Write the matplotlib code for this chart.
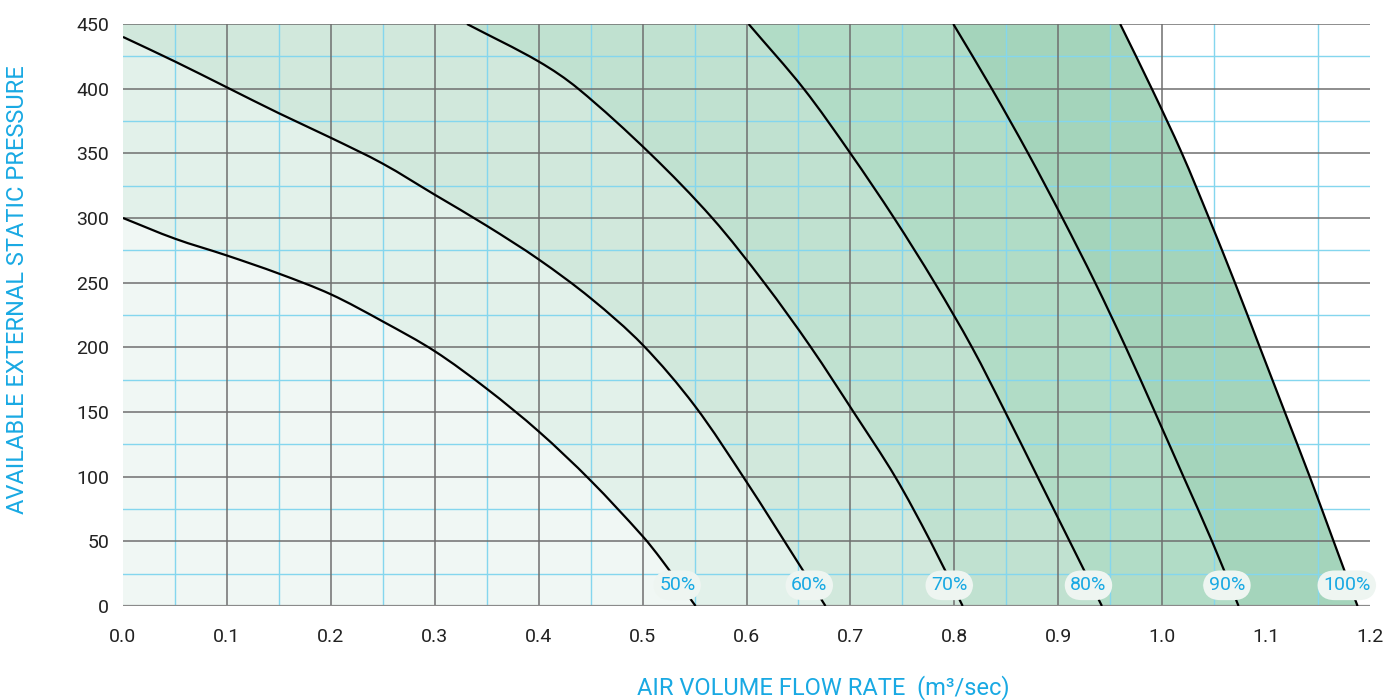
import numpy as np
import matplotlib
matplotlib.use("Agg")
import matplotlib.pyplot as plt
from matplotlib.path import Path
from matplotlib.patches import PathPatch

plt.rcParams['font.family'] = ['Roboto', 'DejaVu Sans']

# fan curves: flow (m3/s) vs available static pressure (Pa)
curve_labels = ['50%', '60%', '70%', '80%', '90%', '100%']

x50 = [0, 0.05, 0.1, 0.15, 0.2, 0.25, 0.3, 0.35, 0.4, 0.45, 0.5, 0.518, 0.551]
y50 = [300, 284, 271, 257, 241, 220, 197, 168, 135, 97, 54, 36, 0]

x60 = [0, 0.05, 0.1, 0.15, 0.2, 0.25, 0.3, 0.35, 0.4, 0.45, 0.5, 0.55, 0.6, 0.65, 0.676]
y60 = [440, 421, 401, 381, 362, 342, 318, 294, 268, 238, 202, 155, 96, 33, 0]

x70 = [0.331, 0.4, 0.438, 0.507, 0.567, 0.617, 0.662, 0.703, 0.743, 0.777, 0.808]
y70 = [450, 421, 400, 350, 300, 250, 200, 150, 100, 50, 0]

x80 = [0.602, 0.655, 0.70, 0.742, 0.781, 0.817, 0.849, 0.880, 0.911, 0.942]
y80 = [450, 400, 350, 300, 250, 200, 150, 100, 50, 0]

x90 = [0.799, 0.836, 0.871, 0.904, 0.9355, 0.965, 0.993, 1.0205, 1.048, 1.0735]
y90 = [450, 400, 350, 300, 250, 200, 150, 100, 50, 0]

x100 = [0.9596, 0.990, 1.019, 1.045, 1.070, 1.094, 1.118, 1.142, 1.165, 1.188]
y100 = [450, 400, 350, 300, 250, 200, 150, 100, 50, 0]

curves_x = [x50, x60, x70, x80, x90, x100]
curves_y = [y50, y60, y70, y80, y90, y100]
band_colors = ['#f0f7f4', '#e2f1ea', '#d1e8dc', '#c0e1d0', '#b1dcc6', '#a4d4bb']

xticks = [0.0, 0.1, 0.2, 0.3, 0.4, 0.5, 0.6, 0.7, 0.8, 0.9, 1.0, 1.1, 1.2]
yticks = [0, 50, 100, 150, 200, 250, 300, 350, 400, 450]
label_y = 16

# rough pixels per data unit, so the smoothing works in screen proportions
SX, SY = 1039.0, 582 / 450


def smooth_segments(xs, ys):
    # chord-length catmull-rom through the read points, as cubic beziers
    p = np.column_stack([np.asarray(xs) * SX, np.asarray(ys) * SY])
    n = len(p)
    d = np.linalg.norm(np.diff(p, axis=0), axis=1)
    tang = np.zeros_like(p)
    tang[0] = (p[1] - p[0]) / d[0]
    tang[-1] = (p[-1] - p[-2]) / d[-1]
    for i in range(1, n - 1):
        tang[i] = (p[i + 1] - p[i - 1]) / (d[i - 1] + d[i])
    verts, codes = [], []
    for i in range(n - 1):
        c1 = p[i] + tang[i] * d[i] / 3
        c2 = p[i + 1] - tang[i + 1] * d[i] / 3
        for q in (c1, c2, p[i + 1]):
            verts.append((q[0] / SX, q[1] / SY))
        codes += [Path.CURVE4] * 3
    return verts, codes


fig = plt.figure(figsize=(14, 7), dpi=100)
ax = fig.add_axes([123 / 1400, 94 / 700, 1247 / 1400, 582 / 700])
ax.set_xlim(0, 1.2)
ax.set_ylim(0, 450)

# shaded bands: paint from outermost curve inwards
for cx, cy, col in reversed(list(zip(curves_x, curves_y, band_colors))):
    verts = [(0, 0), (0, 450 if cx[0] > 0 else cy[0]), (cx[0], cy[0])]
    codes = [Path.MOVETO, Path.LINETO, Path.LINETO]
    v, c = smooth_segments(cx, cy)
    verts += v
    codes += c
    verts += [(0, 0)]
    codes += [Path.CLOSEPOLY]
    ax.add_patch(PathPatch(Path(verts, codes), fc=col, lw=0, zorder=1))

# grid
cyan = '#84d6ee'
gray = '#6f6f6f'
for v in np.arange(0.05, 1.2, 0.1):
    ax.axvline(v, color=cyan, lw=1.0, zorder=2)
for v in np.arange(25, 450, 50):
    ax.axhline(v, color=cyan, lw=1.0, zorder=2)
for v in [0.1, 0.2, 0.3, 0.4, 0.5, 0.6, 0.7, 0.8, 0.9, 1.0]:
    ax.axvline(v, color=gray, lw=1.1, zorder=3)
for v in yticks:
    ax.axhline(v, color=gray if v > 0 else '#8a8a8a', lw=1.1 if v > 0 else 1.6, zorder=3)

for cx, cy, lab in zip(curves_x, curves_y, curve_labels):
    v, c = smooth_segments(cx, cy)
    line = Path([(cx[0], cy[0])] + v, [Path.MOVETO] + c)
    ax.add_patch(PathPatch(line, fc='none', ec='black', lw=1.6, zorder=4))
    lx = np.interp(label_y, cy[::-1], cx[::-1])
    ax.text(lx - 0.003, label_y, lab, ha='center', va='center', fontsize=14, color='#19a9e3',
            zorder=5, bbox=dict(boxstyle='round,pad=0.3,rounding_size=0.9', fc='#eef5f1', ec='none'))

for s in ax.spines.values():
    s.set_visible(False)
ax.set_xticks(xticks)
ax.set_xticklabels([f'{t:.1f}' for t in xticks])
ax.set_yticks(yticks)
ax.tick_params(length=0, labelsize=14, colors='#222222')
ax.tick_params(axis='x', pad=16)
ax.tick_params(axis='y', pad=10)

fig.text(823 / 1400, 1 - 688 / 700, 'AIR VOLUME FLOW RATE  (m\u00b3/sec)', ha='center', va='center',
         fontsize=17, color='#19a9e3')
fig.text(18 / 1400, 1 - 290 / 700, 'AVAILABLE EXTERNAL STATIC PRESSURE', ha='center', va='center',
         rotation=90, fontsize=17, color='#19a9e3')

fig.savefig('out.png', dpi=100)
